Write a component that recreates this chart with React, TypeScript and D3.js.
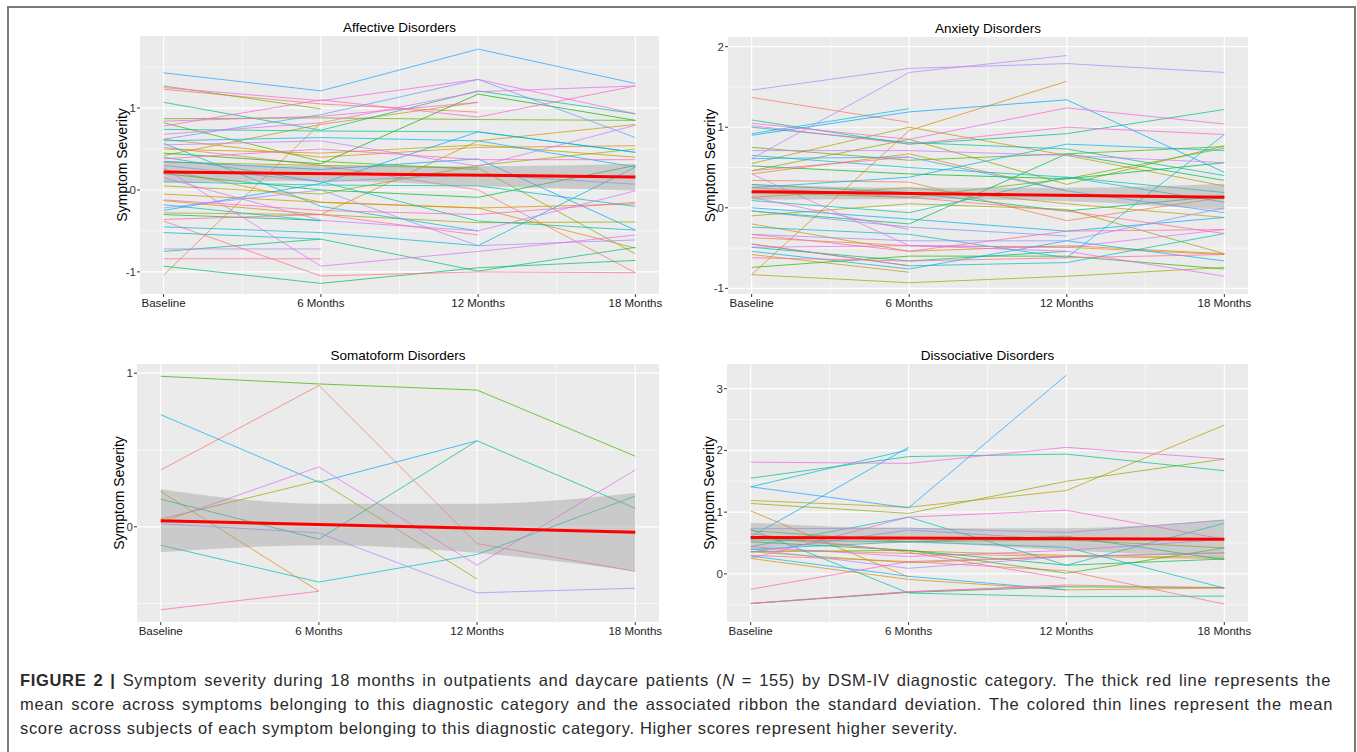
import React, { useEffect, useRef } from 'react';
import * as d3 from 'd3';

const W = 1357;
const H = 752;
const FONT = '"Liberation Sans", Arial, Helvetica, sans-serif';

// time points (months) and their labels
const MONTHS = [0, 6, 12, 18];
const TIME_LABELS = ['Baseline', '6 Months', '12 Months', '18 Months'];

type Row = (number | null)[];

// each row = one symptom, values at baseline / 6 / 12 / 18 months (null = missing)
const affective: Row[] = [
  [0.52, 0.30, 0.00, -1.01],
  [1.23, 1.05, 0.95, null],
  [-1.04, 0.82, null, null],
  [0.62, 0.40, 0.52, 0.54],
  [0.25, -0.15, -0.22, -0.71],
  [-0.05, -0.15, -0.22, -0.17],
  [-0.13, -0.30, 0.60, 0.80],
  [0.42, 0.80, 1.07, null],
  [0.50, 0.45, 0.55, 0.40],
  [0.05, -0.05, 0.30, 0.50],
  [-0.28, -0.30, -0.40, -0.39],
  [0.34, 0.30, 0.27, -0.78],
  [1.27, 0.99, null, null],
  [0.87, 0.88, 0.86, 0.85],
  [0.82, 0.35, 0.25, null],
  [0.45, 0.32, 1.17, 0.85],
  [0.20, 0.00, -0.09, 0.30],
  [-0.30, -0.37, null, null],
  [-0.93, -1.14, -0.95, -0.86],
  [-0.75, -0.60, -0.99, -0.70],
  [1.07, 0.73, 1.21, 0.93],
  [0.74, 0.72, 0.71, 0.46],
  [0.40, 0.10, -0.38, -0.49],
  [0.10, 0.06, 0.05, -0.20],
  [-0.18, -0.38, null, null],
  [-0.52, -0.60, null, null],
  [0.57, -0.20, -0.50, null],
  [-0.45, -0.52, -0.68, 0.28],
  [0.60, 0.64, 0.60, 0.28],
  [-0.25, 0.08, 0.71, 0.46],
  [0.35, 0.25, 0.38, -0.49],
  [1.43, 1.21, 1.72, 1.30],
  [0.62, 0.92, 1.35, 0.64],
  [0.30, 0.10, 0.19, 0.07],
  [-0.22, 0.00, -0.68, -0.61],
  [-0.72, -0.72, null, null],
  [0.55, 0.60, 0.29, 0.79],
  [0.15, -0.37, -0.50, -0.01],
  [0.27, -0.93, -0.75, -0.55],
  [0.68, 0.82, 1.20, 1.27],
  [1.25, 1.09, 1.35, 0.93],
  [0.84, 0.90, 1.07, null],
  [0.78, 1.10, 0.89, 1.27],
  [0.38, 0.50, 0.37, 0.37],
  [-0.12, -0.25, -0.30, -0.15],
  [-0.36, -0.30, -0.55, null],
  [-0.84, -0.84, null, null],
  [-0.38, -1.05, -1.00, -1.01],
];
const affectiveMean = [0.22, 0.16];
const affectiveLow = [0.09, 0.11, 0.05, -0.01];
const affectiveHigh = [0.35, 0.29, 0.29, 0.32];

const anxiety: Row[] = [
  [1.37, 1.06, null, null],
  [0.34, 0.32, -0.16, 0.13],
  [-0.37, -0.47, -0.49, -0.58],
  [-0.83, 0.96, 1.57, null],
  [0.42, 0.67, 0.21, null],
  [-0.20, -0.54, -0.47, -0.57],
  [-0.58, -0.80, null, null],
  [0.13, 0.25, 0.05, -0.12],
  [0.55, 1.00, 0.65, 0.27],
  [-0.83, -0.93, -0.85, -0.74],
  [-0.10, 0.05, -0.02, -0.57],
  [0.46, 0.85, 0.29, 0.77],
  [0.19, 0.13, 0.36, 0.74],
  [0.75, 0.59, 0.67, 0.76],
  [-0.74, -0.60, -0.60, -0.76],
  [0.52, 0.42, 0.36, 0.56],
  [-0.04, -0.20, 0.67, 0.34],
  [0.29, 0.19, -0.04, 0.15],
  [-0.49, -0.66, -0.54, null],
  [1.09, 0.79, 0.92, 1.22],
  [1.00, 0.81, 0.73, 0.40],
  [0.09, -0.06, 0.38, 0.19],
  [-0.45, -0.72, -0.68, -0.32],
  [0.65, 0.50, 0.38, 0.07],
  [-0.24, -0.33, -0.62, 0.91],
  [0.92, 1.23, null, null],
  [0.25, 0.38, 0.79, 0.71],
  [-0.54, -0.76, -0.41, -0.66],
  [0.00, -0.14, -0.29, -0.12],
  [0.90, 1.19, 1.34, 0.44],
  [0.61, 0.63, 0.21, -0.06],
  [-0.04, -0.24, -0.35, null],
  [-0.33, -0.41, -0.41, 0.00],
  [1.46, 1.73, 1.79, 1.68],
  [0.61, 1.68, 1.89, null],
  [0.71, 0.71, 0.65, 0.56],
  [0.42, -0.47, -0.49, -0.27],
  [-0.49, -0.47, -0.54, -0.85],
  [0.13, -0.27, null, null],
  [1.05, 0.85, 1.24, 1.04],
  [1.02, 0.79, 1.00, 0.91],
  [0.46, 0.63, null, null],
  [-0.33, -0.54, -0.29, -0.27],
  [-0.62, -0.66, -0.62, -0.58],
  [0.25, 0.13, -0.04, -0.32],
  [-0.45, -0.72, null, null],
];
const anxietyMean = [0.20, 0.13];
const anxietyLow = [0.10, 0.11, 0.08, -0.03];
const anxietyHigh = [0.29, 0.25, 0.25, 0.30];

const somatoform: Row[] = [
  [0.37, 0.92, -0.11, -0.29],
  [0.23, -0.42, null, null],
  [0.05, 0.30, -0.34, null],
  [0.98, 0.93, 0.89, 0.46],
  [0.18, -0.08, 0.56, 0.12],
  [-0.12, -0.36, -0.18, 0.20],
  [0.73, 0.29, 0.56, null],
  [0.02, -0.04, -0.43, -0.40],
  [0.03, 0.39, -0.25, 0.37],
  [-0.54, -0.42, null, null],
];
const somatoformMean = [0.04, -0.035];
const somatoformLow = [-0.165, -0.12, -0.17, -0.29];
const somatoformHigh = [0.245, 0.15, 0.15, 0.22];

const dissociative: Row[] = [
  [0.30, 0.20, 0.05, -0.49],
  [0.40, 0.33, 0.28, 0.25],
  [1.02, -0.05, null, null],
  [0.25, -0.09, -0.26, -0.23],
  [0.60, 0.37, 0.30, 0.27],
  [1.19, 1.08, 1.35, 2.41],
  [0.36, 0.18, 0.28, 0.34],
  [1.14, 0.98, 1.50, 1.86],
  [0.70, 0.52, 0.55, 0.42],
  [0.36, 0.38, 0.01, 0.42],
  [-0.48, -0.30, -0.21, -0.22],
  [0.52, 0.38, 0.14, 0.24],
  [0.55, 0.52, 0.61, 0.23],
  [1.55, 1.90, 1.94, 1.67],
  [0.72, -0.31, -0.37, -0.36],
  [0.44, 0.92, 0.14, 0.82],
  [0.40, 0.52, 0.43, -0.23],
  [1.41, 2.01, null, null],
  [0.29, -0.04, -0.26, null],
  [0.60, 2.05, null, null],
  [1.41, 1.07, 3.22, null],
  [0.35, 0.71, 0.55, null],
  [0.73, 0.74, 0.67, 0.87],
  [0.40, 0.09, 0.28, 0.34],
  [-0.48, -0.29, -0.20, null],
  [0.44, 0.28, 0.38, 0.56],
  [1.81, 1.79, 2.05, 1.86],
  [0.25, 0.92, 1.03, 0.56],
  [-0.25, 0.20, 0.28, null],
  [0.65, 0.35, -0.08, null],
  [-0.48, -0.29, -0.18, -0.23],
];
const dissociativeMean = [0.59, 0.56];
const dissociativeLow = [0.42, 0.50, 0.38, 0.27];
const dissociativeHigh = [0.83, 0.74, 0.74, 0.88];

// caption lines, split in runs (b = bold, i = italic)
const captionLines = [
  [
    { t: 'FIGURE 2 |', b: true },
    { t: ' Symptom severity during 18 months in outpatients and daycare patients (' },
    { t: 'N', i: true },
    { t: ' = 155) by DSM-IV diagnostic category. The thick red line represents the' },
  ],
  [{ t: 'mean score across symptoms belonging to this diagnostic category and the associated ribbon the standard deviation. The colored thin lines represent the mean' }],
  [{ t: 'score across subjects of each symptom belonging to this diagnostic category. Higher scores represent higher severity.' }],
];

// ggplot2 hue_pal(): polar LUV -> sRGB
function hueColor(i: number, n: number) {
  const h = 15 + (360 / n) * i;
  const c = 100, l = 65;
  const hr = (h * Math.PI) / 180;
  const U = c * Math.cos(hr), V = c * Math.sin(hr);
  const Xn = 95.047, Yn = 100, Zn = 108.883;
  const Y = Yn * Math.pow((l + 16) / 116, 3);
  const den = Xn + 15 * Yn + 3 * Zn;
  const un = (4 * Xn) / den, vn = (9 * Yn) / den;
  const u = U / (13 * l) + un, v = V / (13 * l) + vn;
  const X = (9 * Y * u) / (4 * v);
  const Z = -X / 3 - 5 * Y + (3 * Y) / v;
  const x = X / 100, y = Y / 100, z = Z / 100;
  const lin = [
    3.2404542 * x - 1.5371385 * y - 0.4985314 * z,
    -0.969266 * x + 1.8760108 * y + 0.041556 * z,
    0.0556434 * x - 0.2040259 * y + 1.0572252 * z,
  ];
  const g = lin.map((t) => {
    const s = t <= 0.0031308 ? 12.92 * t : 1.055 * Math.pow(t, 1 / 2.4) - 0.055;
    return Math.round(Math.max(0, Math.min(1, s)) * 255);
  });
  return `rgb(${g[0]},${g[1]},${g[2]})`;
}

const panels = [
  { title: 'Affective Disorders', rows: affective, mean: affectiveMean, low: affectiveLow, high: affectiveHigh,
    ticks: [-1, 0, 1], minor: [-0.5, 0.5, 1.5], yDomain: [-1.27, 1.88], x0: 140, x1: 659, y0: 36, y1: 294 },
  { title: 'Anxiety Disorders', rows: anxiety, mean: anxietyMean, low: anxietyLow, high: anxietyHigh,
    ticks: [-1, 0, 1, 2], minor: [-0.5, 0.5, 1.5], yDomain: [-1.07, 2.12], x0: 728, x1: 1248, y0: 37, y1: 294 },
  { title: 'Somatoform Disorders', rows: somatoform, mean: somatoformMean, low: somatoformLow, high: somatoformHigh,
    ticks: [0, 1], minor: [-0.5, 0.5], yDomain: [-0.62, 1.06], x0: 137, x1: 659, y0: 364, y1: 622 },
  { title: 'Dissociative Disorders', rows: dissociative, mean: dissociativeMean, low: dissociativeLow, high: dissociativeHigh,
    ticks: [0, 1, 2, 3], minor: [-0.5, 0.5, 1.5, 2.5], yDomain: [-0.78, 3.4], x0: 727, x1: 1248, y0: 364, y1: 622 },
];

const App = () => {
  const holder = useRef<HTMLDivElement>(null);

  useEffect(() => {
    d3.select(holder.current).selectAll('*').remove();

    const svg = d3.select(holder.current)
      .append('svg')
      .attr('width', W)
      .attr('height', H)
      .style('position', 'absolute')
      .style('left', '0px')
      .style('top', '0px')
      .style('background', '#fff')
      .style('font-family', FONT);

    // frame round the figure
    svg.append('path')
      .attr('d', `M8,${H} V7 H1355 V${H}`)
      .attr('fill', 'none')
      .attr('stroke', '#7a7a7a')
      .attr('stroke-width', 2);

    panels.forEach((p) => {
      const x = d3.scaleLinear().domain([-0.9, 18.9]).range([p.x0, p.x1]);
      const y = d3.scaleLinear().domain(p.yDomain).range([p.y1, p.y0]);
      const g = svg.append('g');

      g.append('rect')
        .attr('x', p.x0).attr('y', p.y0)
        .attr('width', p.x1 - p.x0).attr('height', p.y1 - p.y0)
        .attr('fill', '#EBEBEB');

      // minor grid
      g.selectAll('.minx').data([3, 9, 15]).enter().append('line')
        .attr('x1', (d) => x(d)).attr('x2', (d) => x(d))
        .attr('y1', p.y0).attr('y2', p.y1)
        .attr('stroke', '#fff').attr('stroke-width', 0.6);
      g.selectAll('.miny').data(p.minor).enter().append('line')
        .attr('x1', p.x0).attr('x2', p.x1)
        .attr('y1', (d) => y(d)).attr('y2', (d) => y(d))
        .attr('stroke', '#fff').attr('stroke-width', 0.6);
      // major grid
      g.selectAll('.majx').data(MONTHS).enter().append('line')
        .attr('x1', (d) => x(d)).attr('x2', (d) => x(d))
        .attr('y1', p.y0).attr('y2', p.y1)
        .attr('stroke', '#fff').attr('stroke-width', 1.2);
      g.selectAll('.majy').data(p.ticks).enter().append('line')
        .attr('x1', p.x0).attr('x2', p.x1)
        .attr('y1', (d) => y(d)).attr('y2', (d) => y(d))
        .attr('stroke', '#fff').attr('stroke-width', 1.2);

      // thin symptom lines
      const line = d3.line<number | null>()
        .defined((d) => d !== null)
        .x((d, i) => x(MONTHS[i]))
        .y((d) => y(d as number));
      const n = p.rows.length;
      g.selectAll('.sym').data(p.rows).enter().append('path')
        .attr('d', (d) => line(d))
        .attr('fill', 'none')
        .attr('stroke', (d, i) => hueColor(i, n))
        .attr('stroke-width', 1)
        .attr('stroke-opacity', 0.72);

      // ribbon + mean
      const band = d3.area<number>()
        .x((d, i) => x(MONTHS[i]))
        .y0((d, i) => y(p.low[i]))
        .y1((d, i) => y(p.high[i]))
        .curve(d3.curveMonotoneX);
      g.append('path')
        .attr('d', band(p.low))
        .attr('fill', '#999999')
        .attr('fill-opacity', 0.4);
      g.append('line')
        .attr('x1', x(0)).attr('x2', x(18))
        .attr('y1', y(p.mean[0])).attr('y2', y(p.mean[1]))
        .attr('stroke', '#FF0000')
        .attr('stroke-width', 3);

      // y axis
      g.selectAll('.yt').data(p.ticks).enter().append('line')
        .attr('x1', p.x0 - 3).attr('x2', p.x0)
        .attr('y1', (d) => y(d)).attr('y2', (d) => y(d))
        .attr('stroke', '#333').attr('stroke-width', 1);
      g.selectAll('.yl').data(p.ticks).enter().append('text')
        .attr('x', p.x0 - 4).attr('y', (d) => y(d) + 4)
        .attr('text-anchor', 'end')
        .attr('font-size', 11.5)
        .attr('fill', '#333')
        .text((d) => String(d));

      // x axis
      g.selectAll('.xt').data(MONTHS).enter().append('line')
        .attr('x1', (d) => x(d)).attr('x2', (d) => x(d))
        .attr('y1', p.y1).attr('y2', p.y1 + 3)
        .attr('stroke', '#333').attr('stroke-width', 1);
      g.selectAll('.xl').data(MONTHS).enter().append('text')
        .attr('x', (d) => x(d)).attr('y', p.y1 + 13)
        .attr('text-anchor', 'middle')
        .attr('font-size', 11.5)
        .attr('fill', '#222')
        .text((d, i) => TIME_LABELS[i]);

      // titles
      g.append('text')
        .attr('x', (p.x0 + p.x1) / 2).attr('y', p.y0 - 4)
        .attr('text-anchor', 'middle')
        .attr('font-size', 13.5)
        .attr('fill', '#000')
        .text(p.title);
      const ty = (p.y0 + p.y1) / 2;
      g.append('text')
        .attr('transform', `translate(${p.x0 - 13.5},${ty}) rotate(-90)`)
        .attr('text-anchor', 'middle')
        .attr('font-size', 14)
        .attr('fill', '#000')
        .text('Symptom Severity');
    });

    // caption: letter spacing fitted to the last line, first two lines justified
    const targets = [1311, 1313, 938];
    const baselines = [686, 710, 734];
    const texts = captionLines.map((runs, li) => {
      const t = svg.append('text')
        .attr('x', 20)
        .attr('y', baselines[li])
        .attr('font-size', 16.5)
        .attr('fill', '#2a2a2a');
      runs.forEach((r: any) => {
        t.append('tspan')
          .attr('font-weight', r.b ? 'bold' : null)
          .attr('font-style', r.i ? 'italic' : null)
          .text(r.t);
      });
      return t;
    });
    const last = texts[2].node() as SVGTextElement;
    const lastStr = captionLines[2].map((r) => r.t).join('');
    const ls = Math.max(0, (targets[2] - last.getComputedTextLength()) / lastStr.length);
    texts.forEach((t) => t.attr('letter-spacing', ls));
    [0, 1].forEach((li) => {
      const t = texts[li];
      const w = (t.node() as SVGTextElement).getComputedTextLength();
      const spaces = captionLines[li].map((r) => r.t).join('').split(' ').length - 1;
      t.attr('word-spacing', Math.max(0, (targets[li] - w) / spaces));
    });
  }, []);

  return <div ref={holder}></div>;
};

export default App;
